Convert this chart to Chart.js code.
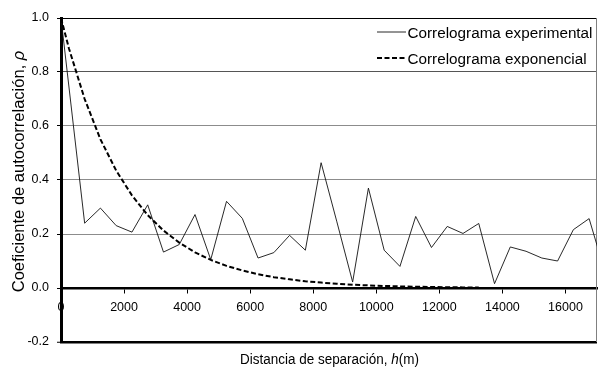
<!DOCTYPE html>
<html>
<head>
<meta charset="utf-8">
<title>Correlograma</title>
<script src="https://cdn.jsdelivr.net/npm/chart.js@4.4.1/dist/chart.umd.min.js"></script>
<style>
  html, body { margin: 0; padding: 0; background: #fff; }
  #wrap { width: 608px; height: 367px; }
  canvas { display: block; }
</style>
</head>
<body>
<div id="wrap"><canvas id="chart" width="608" height="367"></canvas></div>
<script>
// Experimental correlogram: lag distance h (m) and autocorrelation coefficient
const lagExperimental = [0, 750, 1250, 1750, 2250, 2750, 3250, 3750, 4250, 4750,
  5250, 5750, 6250, 6750, 7250, 7750, 8250, 8750, 9250, 9750,
  10250, 10750, 11250, 11750, 12250, 12750, 13250, 13750, 14250, 14750,
  15250, 15750, 16250, 16750, 17250];
const rhoExperimental = [1.0, 0.240, 0.296, 0.231, 0.207, 0.308, 0.133, 0.161, 0.272, 0.105,
  0.321, 0.258, 0.111, 0.131, 0.195, 0.140, 0.464, 0.245, 0.022, 0.370,
  0.140, 0.080, 0.265, 0.150, 0.228, 0.202, 0.239, 0.016, 0.152, 0.136,
  0.111, 0.100, 0.216, 0.257, 0.060];

// Fitted exponential model
const lagExponential = [0, 250, 750, 1250, 1750, 2250, 2750, 3250, 3750, 4250,
  4750, 5250, 5750, 6250, 6750, 7250, 7750, 8250, 8750, 9250,
  9750, 10250, 10750, 11250, 11750, 12250, 12750, 13250];
const rhoExponential = [1.000, 0.888, 0.700, 0.551, 0.435, 0.343, 0.270, 0.213, 0.168, 0.132,
  0.104, 0.082, 0.065, 0.051, 0.040, 0.032, 0.025, 0.020, 0.0155, 0.0122,
  0.0096, 0.0076, 0.0060, 0.0047, 0.0037, 0.0029, 0.0023, 0.0018];

const seriesLabels = ['Correlograma experimental', 'Correlograma exponencial'];
const xTickValues = [0, 2000, 4000, 6000, 8000, 10000, 12000, 14000, 16000];
const yTickValues = [-0.2, 0.0, 0.2, 0.4, 0.6, 0.8, 1.0];
const xTitle = ['Distancia de separación, ', 'h', '(m)'];
const yTitle = ['Coeficiente de autocorrelación, ', 'ρ'];

const FONT = "'Liberation Sans', Arial, Helvetica, sans-serif";

const toPoints = (xs, ys) => xs.map((x, i) => ({ x: x, y: ys[i] }));

// Draws a run of text pieces (some italic) centred on the origin,
// squeezed or stretched horizontally to an overall width when one is given
function drawMixed(ctx, pieces, italicIdx, size, width) {
  const fonts = pieces.map((p, i) => (italicIdx.includes(i) ? 'italic ' : '') + size + 'px ' + FONT);
  const widths = pieces.map((p, i) => { ctx.font = fonts[i]; return ctx.measureText(p).width; });
  const total = widths.reduce((a, b) => a + b, 0);
  if (width) ctx.scale(width / total, 1);
  let x = -total / 2;
  pieces.forEach((p, i) => {
    ctx.font = fonts[i];
    ctx.fillText(p, x, 0);
    x += widths[i];
  });
}

const decorations = {
  id: 'decorations',
  beforeDatasetsDraw(chart) {
    const { ctx, chartArea: a } = chart;
    ctx.save();
    // right edge of the plot area
    ctx.strokeStyle = '#808080';
    ctx.lineWidth = 1;
    ctx.beginPath();
    ctx.moveTo(Math.round(a.right) - 0.5, a.top);
    ctx.lineTo(Math.round(a.right) - 0.5, a.bottom);
    ctx.stroke();
    ctx.restore();
  },
  afterDraw(chart) {
    const { ctx } = chart;
    ctx.save();
    ctx.fillStyle = '#000';
    ctx.textBaseline = 'alphabetic';
    ctx.textAlign = 'left';

    // axis titles
    ctx.save();
    ctx.translate(329.5, 363.5);
    drawMixed(ctx, xTitle, [1], 15.5, 179);
    ctx.restore();

    ctx.save();
    ctx.translate(24, 171.5);
    ctx.rotate(-Math.PI / 2);
    drawMixed(ctx, yTitle, [1], 16.5);
    ctx.restore();

    // legend
    const items = chart.data.datasets;
    const rows = [32, 58];
    const baselines = [37.5, 63.5];
    ctx.font = '15.5px ' + FONT;
    const stretch = 185 / ctx.measureText(items[0].label).width;
    items.forEach((ds, i) => {
      ctx.save();
      ctx.strokeStyle = ds.borderColor;
      ctx.lineWidth = ds.borderWidth;
      ctx.setLineDash(ds.borderDash || []);
      ctx.beginPath();
      ctx.moveTo(377, rows[i]);
      ctx.lineTo(406, rows[i]);
      ctx.stroke();
      ctx.restore();
      ctx.save();
      ctx.translate(407.5, baselines[i]);
      ctx.scale(stretch, 1);
      ctx.fillText(ds.label, 0, 0);
      ctx.restore();
    });
    ctx.restore();
  }
};

const near = (a, b) => Math.abs(a - b) < 1e-6;

new Chart(document.getElementById('chart'), {
  type: 'line',
  data: {
    datasets: [
      {
        label: seriesLabels[0],
        data: toPoints(lagExperimental, rhoExperimental),
        borderColor: '#111',
        borderWidth: 0.9,
        pointRadius: 0,
        tension: 0,
        fill: false,
        order: 1
      },
      {
        label: seriesLabels[1],
        data: toPoints(lagExponential, rhoExponential),
        borderColor: '#000',
        borderWidth: 2,
        borderDash: [5, 2.5],
        pointRadius: 0,
        tension: 0,
        fill: false,
        order: 0
      }
    ]
  },
  options: {
    responsive: false,
    animation: false,
    devicePixelRatio: 1,
    layout: { padding: { left: 0, top: 18, right: 11, bottom: 25 } },
    plugins: {
      legend: { display: false },
      tooltip: { enabled: false }
    },
    scales: {
      x: {
        type: 'linear',
        min: 0,
        max: 17000,
        position: { y: 0 },
        afterFit(scale) { scale.height = 0; },
        afterBuildTicks(scale) { scale.ticks = xTickValues.map(v => ({ value: v })); },
        ticks: {
          autoSkip: false,
          maxRotation: 0,
          padding: 8,
          color: '#000',
          font: { family: FONT, size: 12.5 },
          callback: v => String(v)
        },
        grid: {
          drawOnChartArea: false,
          drawTicks: true,
          tickLength: 4,
          tickColor: '#000',
          tickWidth: 1
        },
        border: { display: true, color: '#000', width: 2.5 }
      },
      y: {
        type: 'linear',
        min: -0.2,
        max: 1.0,
        afterFit(scale) { scale.width = 61; },
        afterBuildTicks(scale) { scale.ticks = yTickValues.map(v => ({ value: v })); },
        ticks: {
          padding: 8,
          color: '#000',
          font: { family: FONT, size: 12.5 },
          callback: v => Number(v).toFixed(1)
        },
        grid: {
          drawTicks: true,
          tickLength: 4,
          tickColor: '#000',
          tickWidth: 1,
          color: c => {
            const v = c.tick ? c.tick.value : 0;
            if (near(v, 1) || near(v, -0.2) || near(v, 0)) return '#000';
            if (near(v, 0.8)) return '#555';
            return '#8c8c8c';
          },
          lineWidth: c => {
            const v = c.tick ? c.tick.value : 0;
            if (near(v, -0.2)) return 2.5;
            return 1;
          }
        },
        border: { display: true, color: '#000', width: 3 }
      }
    }
  },
  plugins: [decorations]
});
</script>
</body>
</html>
